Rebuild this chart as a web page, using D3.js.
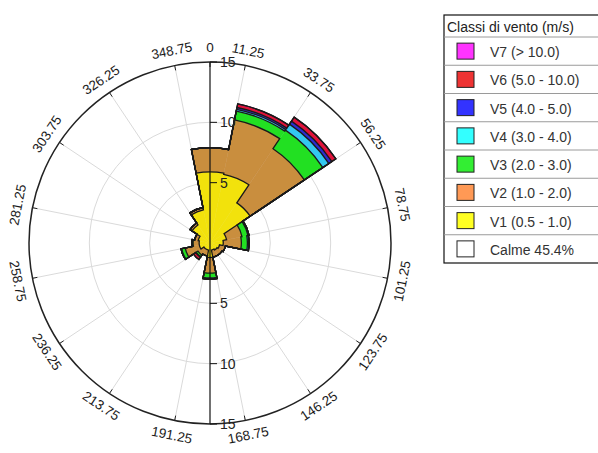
<!DOCTYPE html>
<html>
<head>
<meta charset="utf-8">
<script src="https://cdn.jsdelivr.net/npm/d3@7"></script>
<style>
  html, body { margin: 0; padding: 0; background: #fff; }
  svg { display: block; font-family: "Liberation Sans", Arial, sans-serif; }
</style>
</head>
<body>
<svg id="chart" width="598" height="453"></svg>
<script>
// ---- data ----
const directions = [0, 22.5, 45, 67.5, 90, 112.5, 135, 157.5, 180, 202.5, 225, 247.5, 270, 292.5, 315, 337.5];
const v1 = [5.9, 5.8, 4.0, 1.4, 1.1, 0.8, 0.7, 0.6, 1.2, 0.6, 0.6, 0.9, 0.9, 1.0, 1.8, 2.8];
const v2 = [2.0, 4.6, 5.4, 1.3, 1.5, 0.5, 0.5, 0.6, 1.3, 0.5, 0.6, 1.2, 0.5, 0.3, 0.2, 0.2];
const v3 = [0, 0.75, 1.85, 0.5, 0.5, 0, 0, 0, 0.4, 0, 0.2, 0.3, 0.1, 0, 0, 0];
const v4 = [0, 0.15, 0.6, 0.1, 0.1, 0, 0, 0, 0.1, 0, 0, 0.05, 0, 0, 0, 0];
const v5 = [0, 0.15, 0.3, 0, 0.05, 0, 0, 0, 0, 0, 0, 0, 0, 0, 0, 0];
const v6 = [0, 0.3, 0.4, 0, 0, 0, 0, 0, 0, 0, 0.25, 0, 0, 0, 0, 0];
const v7 = [0, 0, 0, 0, 0, 0, 0, 0, 0, 0, 0, 0, 0, 0, 0, 0];
const seriesKeys = ["V1", "V2", "V3", "V4", "V5", "V6", "V7"];
const seriesValues = [v1, v2, v3, v4, v5, v6, v7];
const legendTitle = "Classi di vento (m/s)";
const legendLabels = ["V7 (> 10.0)", "V6 (5.0 - 10.0)", "V5 (4.0 - 5.0)", "V4 (3.0 - 4.0)", "V3 (2.0 - 3.0)", "V2 (1.0 - 2.0)", "V1 (0.5 - 1.0)", "Calme 45.4%"];
const angleTicks = [0, 11.25, 33.75, 56.25, 78.75, 101.25, 123.75, 146.25, 168.75, 191.25, 213.75, 236.25, 258.75, 281.25, 303.75, 326.25, 348.75];
const angleTickLabels = ["0", "11.25", "33.75", "56.25", "78.75", "101.25", "123.75", "146.25", "168.75", "191.25", "213.75", "236.25", "258.75", "281.25", "303.75", "326.25", "348.75"];
const radialTicks = [5, 10, 15];
const radialTickLabels = ["5", "10", "15"];
const gridCircles = [5, 10];

// ---- styles ----
const fillColors = ["#f2e20c", "#c98e3e", "#22e022", "#33c8f0", "#2c2cd0", "#e0123a", "#ee22ee"];
const legendColors = ["#ffff22", "#ff9955", "#33ee33", "#33ffff", "#3333ff", "#ee3333", "#ff33ff", "#ffffff"];

const svg = d3.select("#chart");
const cx = 210, cy = 243, R = 181;
const rScale = d3.scaleLinear().domain([0, 15]).range([0, R]);
const aScale = d3.scaleLinear().domain([0, 360]).range([0, 2 * Math.PI]);
const halfWidth = 11.25;

const table = directions.map((d, i) => {
  const row = { dir: d };
  seriesKeys.forEach((k, j) => row[k] = seriesValues[j][i]);
  return row;
});
const stacked = d3.stack().keys(seriesKeys)(table);

const g = svg.append("g").attr("transform", `translate(${cx},${cy})`);

// grid circles
g.selectAll("circle.grid").data(gridCircles).join("circle")
  .attr("r", d => rScale(d)).attr("fill", "none")
  .attr("stroke", "#dadada").attr("stroke-width", 1);

// spokes
g.selectAll("line.spoke").data(angleTicks.slice(1)).join("line")
  .attr("x1", 0).attr("y1", 0)
  .attr("x2", d => R * Math.sin(aScale(d)))
  .attr("y2", d => -R * Math.cos(aScale(d)))
  .attr("stroke", "#dadada").attr("stroke-width", 1);

// fills
const arc = d3.arc();
stacked.forEach((s, k) => {
  g.append("g").selectAll("path").data(s).join("path")
    .attr("d", d => arc({
      innerRadius: rScale(d[0]),
      outerRadius: rScale(d[1]),
      startAngle: aScale(d.data.dir - halfWidth),
      endAngle: aScale(d.data.dir + halfWidth)
    }))
    .attr("fill", fillColors[k])
    .attr("stroke", fillColors[k]).attr("stroke-width", 0.4);
});

// outlines for each stacked level
stacked.forEach((s, k) => {
  const p = d3.path();
  s.forEach((d, i) => {
    const a0 = aScale(d.data.dir - halfWidth) - Math.PI / 2;
    const a1 = aScale(d.data.dir + halfWidth) - Math.PI / 2;
    const rr = rScale(d[1]);
    if (i === 0) p.moveTo(rr * Math.cos(a0), rr * Math.sin(a0));
    p.arc(0, 0, rr, a0, a1);
  });
  p.closePath();
  g.append("path").attr("d", p.toString())
    .attr("fill", "none").attr("stroke", "#1a1a1a")
    .attr("stroke-width", 1.3).attr("stroke-linejoin", "miter");
});

// outer circle
g.append("circle").attr("r", R).attr("fill", "none")
  .attr("stroke", "#222").attr("stroke-width", 1.5);

// angular ticks on outer circle
g.selectAll("line.atick").data(angleTicks).join("line")
  .attr("x1", d => R * Math.sin(aScale(d)))
  .attr("y1", d => -R * Math.cos(aScale(d)))
  .attr("x2", d => (R - 5) * Math.sin(aScale(d)))
  .attr("y2", d => -(R - 5) * Math.cos(aScale(d)))
  .attr("stroke", "#222").attr("stroke-width", 1);

// angular labels
function rot(d) {
  if (d <= 90) return d;
  if (d < 270) return d - 180;
  return d - 360;
}
g.selectAll("text.alabel").data(angleTicks).join("text")
  .attr("transform", (d, i) => {
    const rr = R + 15;
    const x = rr * Math.sin(aScale(d)), y = -rr * Math.cos(aScale(d));
    return `translate(${x},${y}) rotate(${rot(d)})`;
  })
  .attr("text-anchor", "middle").attr("dominant-baseline", "central")
  .attr("font-size", 13.5).attr("fill", "#1a1a1a")
  .text((d, i) => angleTickLabels[i]);

// vertical radial axis
g.append("line").attr("x1", 0).attr("x2", 0)
  .attr("y1", -rScale(15)).attr("y2", rScale(15))
  .attr("stroke", "#111").attr("stroke-width", 1.2);
[-1, 1].forEach(sign => {
  radialTicks.forEach((t, i) => {
    const y = sign * rScale(t);
    g.append("line").attr("x1", 0).attr("x2", 7).attr("y1", y).attr("y2", y)
      .attr("stroke", "#111").attr("stroke-width", 1);
    g.append("text").attr("x", 10).attr("y", y)
      .attr("dominant-baseline", "central").attr("font-size", 14).attr("fill", "#222")
      .text(radialTickLabels[i]);
  });
});

// legend
const lx = 444, ly = 15, rowH = 28.25, titleH = 22;
const lg = svg.append("g");
const nRows = legendLabels.length;
lg.append("rect").attr("x", lx).attr("y", ly).attr("width", 170)
  .attr("height", titleH + nRows * rowH)
  .attr("fill", "#fff").attr("stroke", "#111").attr("stroke-width", 1.2);
lg.append("text").attr("x", lx + 3).attr("y", ly + titleH / 2 + 1)
  .attr("dominant-baseline", "central").attr("font-size", 14).attr("fill", "#222")
  .text(legendTitle);
legendLabels.forEach((lab, i) => {
  const y0 = ly + titleH + i * rowH;
  lg.append("line").attr("x1", lx).attr("x2", 598).attr("y1", y0).attr("y2", y0)
    .attr("stroke", "#9a9a9a").attr("stroke-width", 1);
  const colorIdx = i < 7 ? 6 - i : 7;
  lg.append("rect").attr("x", lx + 13).attr("y", y0 + rowH / 2 - 8)
    .attr("width", 17).attr("height", 16)
    .attr("fill", legendColors[colorIdx]).attr("stroke", "#222").attr("stroke-width", 1);
  lg.append("text").attr("x", lx + 46).attr("y", y0 + rowH / 2 + 1)
    .attr("dominant-baseline", "central").attr("font-size", 14).attr("fill", "#333")
    .text(lab);
});
</script>
</body>
</html>
